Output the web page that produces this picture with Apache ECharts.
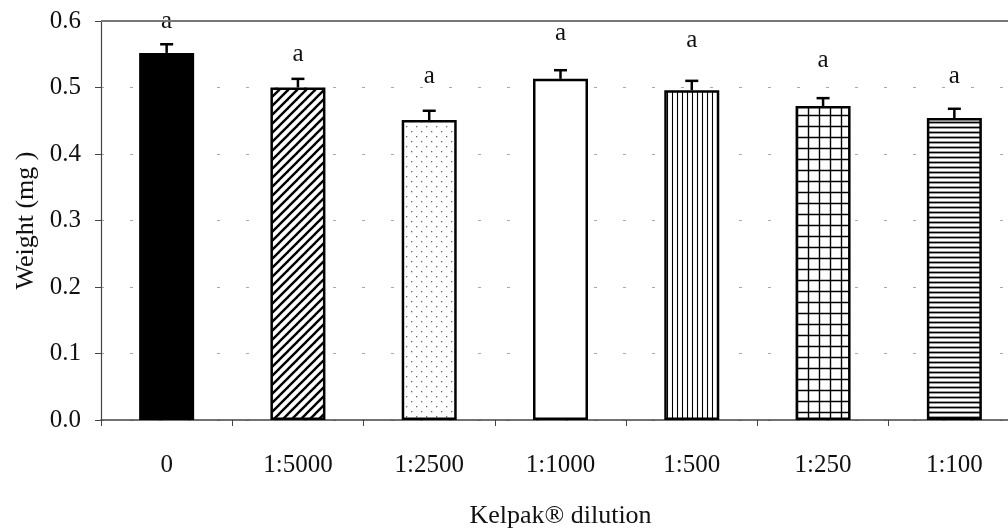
<!DOCTYPE html>
<html>
<head>
<meta charset="utf-8">
<script src="https://cdn.jsdelivr.net/npm/echarts@6/dist/echarts.min.js"></script>
<style>
html, body { margin: 0; padding: 0; background: #fff; }
#main { width: 1008px; height: 532px; }
</style>
</head>
<body>
<div id="main"></div>
<script>
var categories = ['0', '1:5000', '1:2500', '1:1000', '1:500', '1:250', '1:100'];
var weights = [0.552, 0.500, 0.451, 0.513, 0.496, 0.472, 0.454];
var errors = [0.013, 0.013, 0.014, 0.013, 0.014, 0.012, 0.014];
var letters = ['a', 'a', 'a', 'a', 'a', 'a', 'a'];
var letterPos = [0.600, 0.549, 0.516, 0.582, 0.571, 0.541, 0.517];
var yTicks = [0, 0.1, 0.2, 0.3, 0.4, 0.5, 0.6];

var serif = 'Liberation Serif';

// build a small canvas tile to use as bar fill
function makeTile(w, h, draw) {
	var c = document.createElement('canvas');
	c.width = w;
	c.height = h;
	var ctx = c.getContext('2d');
	ctx.fillStyle = '#fff';
	ctx.fillRect(0, 0, w, h);
	ctx.strokeStyle = '#000';
	ctx.fillStyle = '#000';
	draw(ctx);
	return { image: c, repeat: 'repeat' };
}

var fills = [
	'#000',
	makeTile(9, 9, function(ctx) {
		ctx.lineWidth = 2.4;
		for (var k = -1; k <= 1; k++) {
			ctx.beginPath();
			ctx.moveTo(-1 + k * 9, 10);
			ctx.lineTo(10 + k * 9, -1);
			ctx.stroke();
		}
	}),
	makeTile(10, 10, function(ctx) {
		ctx.fillStyle = '#666';
		ctx.fillRect(1, 1, 1.3, 1.3);
		ctx.fillRect(6, 6, 1.3, 1.3);
	}),
	'#fff',
	makeTile(5, 10, function(ctx) {
		ctx.lineWidth = 1.1;
		ctx.beginPath();
		ctx.moveTo(2.5, 0);
		ctx.lineTo(2.5, 10);
		ctx.stroke();
	}),
	makeTile(11, 11, function(ctx) {
		ctx.lineWidth = 1.4;
		ctx.beginPath();
		ctx.moveTo(5.5, 0);
		ctx.lineTo(5.5, 11);
		ctx.moveTo(0, 5.5);
		ctx.lineTo(11, 5.5);
		ctx.stroke();
	}),
	makeTile(10, 5, function(ctx) {
		ctx.lineWidth = 1.8;
		ctx.beginPath();
		ctx.moveTo(0, 2.5);
		ctx.lineTo(10, 2.5);
		ctx.stroke();
	})
];

var barData = [];
for (var i = 0; i < weights.length; i++) {
	barData.push({
		value: weights[i],
		itemStyle: { color: fills[i] }
	});
}

var errData = [];
var letterData = [];
for (var i = 0; i < weights.length; i++) {
	errData.push([i, weights[i], weights[i] + errors[i]]);
	letterData.push([i, letterPos[i]]);
}

var myChart = echarts.init(document.getElementById('main'));
var option = {
	animation: false,
	backgroundColor: '#fff',
	grid: {
		left: 101,
		right: -12,
		top: 21,
		bottom: 112,
		outerBoundsMode: 'none'
	},
	xAxis: {
		type: 'category',
		data: categories,
		name: 'Kelpak\u00ae dilution',
		nameLocation: 'middle',
		nameGap: 83,
		nameTextStyle: { fontFamily: serif, fontSize: 26, color: '#111' },
		axisLine: { lineStyle: { color: '#444', width: 1.5 } },
		axisTick: { show: true, length: 6, lineStyle: { color: '#444' } },
		axisLabel: { fontFamily: serif, fontSize: 25, color: '#111', margin: 33 }
	},
	yAxis: {
		type: 'value',
		min: 0,
		max: 0.6,
		interval: 0.1,
		name: 'Weight (mg )',
		nameLocation: 'middle',
		nameGap: 62,
		nameTextStyle: { fontFamily: serif, fontSize: 26, color: '#111' },
		axisLine: { show: true, lineStyle: { color: '#444', width: 1.2 } },
		axisTick: { show: true, length: 6, inside: false, lineStyle: { color: '#444' } },
		axisLabel: {
			fontFamily: serif,
			fontSize: 25,
			color: '#111',
			margin: 20,
			formatter: function(v) {
				return yTicks.indexOf(Math.round(v * 10) / 10) >= 0 ? v.toFixed(1) : '';
			}
		},
		splitLine: {
			show: true,
			lineStyle: { color: '#aaa', type: [3, 26], width: 1 }
		}
	},
	series: [{
		type: 'bar',
		data: barData,
		barWidth: 55,
		itemStyle: { borderColor: '#000', borderWidth: 2.5 },
		markLine: {
			silent: true,
			symbol: 'none',
			label: { show: false },
			lineStyle: { color: '#777', type: 'solid', width: 2 },
			data: [{ yAxis: 0.6 }]
		},
		z: 2
	}, {
		type: 'custom',
		data: errData,
		z: 3,
		renderItem: function(params, api) {
			var base = api.coord([api.value(0), api.value(1)]);
			var top = api.coord([api.value(0), api.value(2)]);
			var half = 6.5;
			return {
				type: 'group',
				children: [{
					type: 'line',
					shape: { x1: base[0], y1: base[1], x2: top[0], y2: top[1] },
					style: { stroke: '#000', lineWidth: 2.5 }
				}, {
					type: 'line',
					shape: { x1: top[0] - half, y1: top[1], x2: top[0] + half, y2: top[1] },
					style: { stroke: '#000', lineWidth: 2.5 }
				}]
			};
		}
	}, {
		type: 'custom',
		data: letterData,
		z: 4,
		renderItem: function(params, api) {
			var p = api.coord([api.value(0), api.value(1)]);
			return {
				type: 'text',
				x: p[0],
				y: p[1],
				style: {
					text: letters[params.dataIndex],
					fontFamily: serif,
					fontSize: 25,
					fill: '#111',
					align: 'center',
					verticalAlign: 'middle'
				}
			};
		}
	}]
};
myChart.setOption(option);
</script>
</body>
</html>
